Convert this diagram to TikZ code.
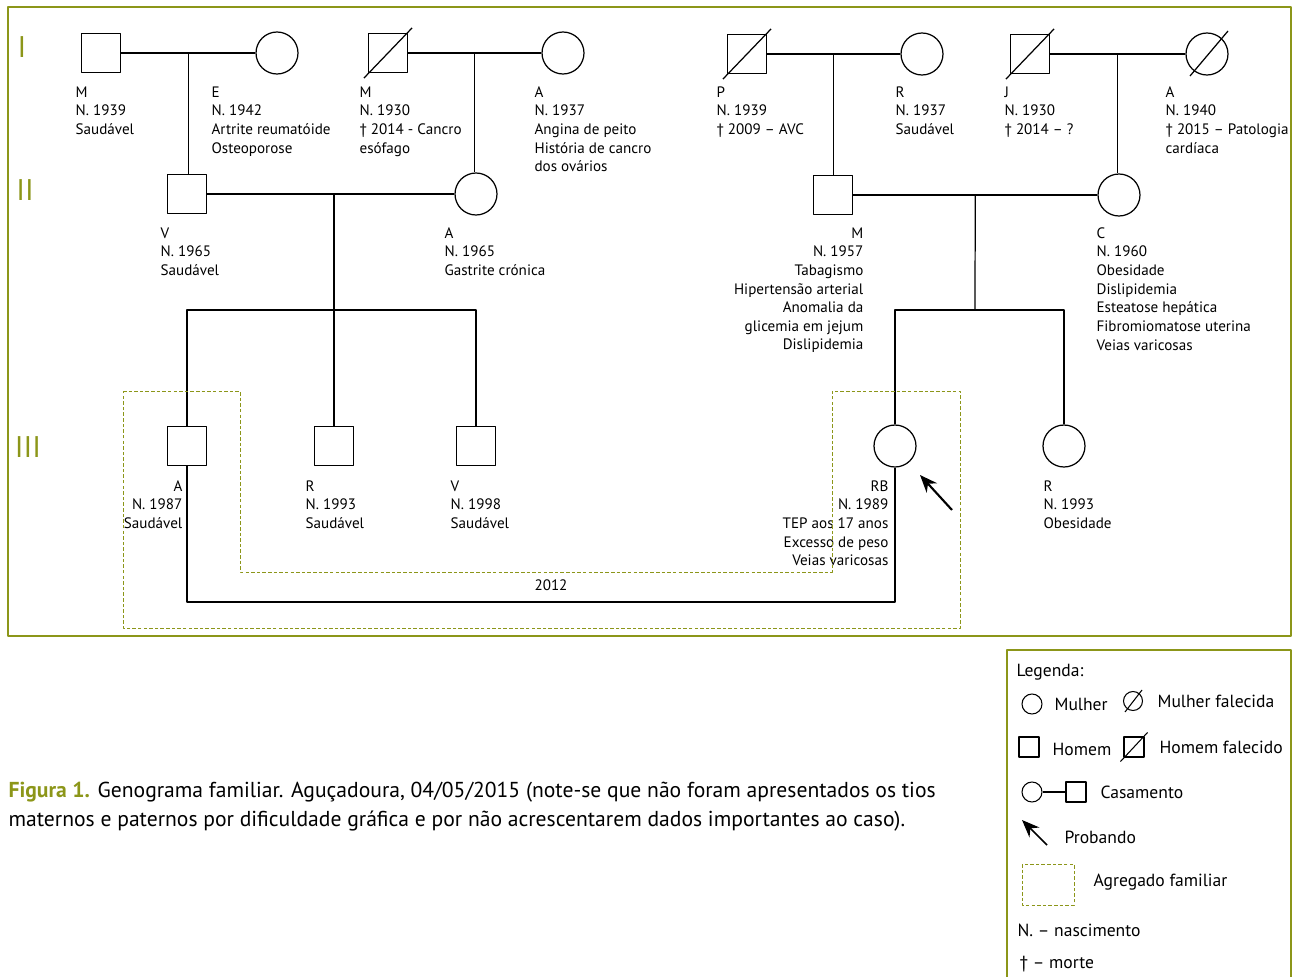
\documentclass[tikz,border=0pt]{standalone}
\usepackage{fontspec}
\setmainfont{PT Sans}
\usetikzlibrary{arrows.meta}
\definecolor{genolive}{RGB}{140,150,25}
\tikzset{
  homem/.style={draw, rectangle, minimum size=0.78cm, inner sep=0pt, fill=white},
  mulher/.style={draw, circle, minimum size=0.84cm, inner sep=0pt, fill=white},
  info/.style={inner sep=0pt, font=\fontsize{8.6}{10.6}\selectfont},
  infoL/.style={info, anchor=north west, align=left},
  infoR/.style={info, anchor=north east, align=right},
  legtxt/.style={inner sep=0pt, anchor=base west, font=\fontsize{10}{12}\selectfont},
  geracao/.style={text=genolive, inner sep=0pt, font=\fontsize{17}{20}\selectfont},
  agregado/.style={draw=genolive, dash pattern=on 2pt off 1.2pt, line width=0.5pt},
  probando/.style={-{Stealth[length=10pt,width=8pt]}, line width=1.2pt},
}
\begin{document}
\begin{tikzpicture}[x=0.02cm, y=-0.02cm, line join=round, line width=0.7pt]
\useasboundingbox (0,0) rectangle (1296,977);
\draw[genolive, line width=0.6pt] (8,7) rectangle (1291,636);

% geracoes
\node[geracao] (g1) at (22,47) {I};
\node[geracao] (g2) at (25,190) {II};
\node[geracao] (g3) at (28,447) {III};

% geracao I
\node[homem] (m1) at (101,53) {};
\node[mulher] (e1) at (277,53) {};
\node[homem] (m2) at (388,53) {};
\draw ([shift={(-4,5)}]m2.south west) -- ([shift={(4,-5)}]m2.north east);
\node[mulher] (a1) at (563,53) {};
\node[homem] (p1) at (747,54) {};
\draw ([shift={(-4,5)}]p1.south west) -- ([shift={(4,-5)}]p1.north east);
\node[mulher] (r1) at (922,54) {};
\node[homem] (j1) at (1030,54) {};
\draw ([shift={(-4,5)}]j1.south west) -- ([shift={(4,-5)}]j1.north east);
\node[mulher] (a2) at (1207,54) {};
\draw ([shift={(-17,22)}]a2.center) -- ([shift={(21,-23)}]a2.center);

\node[infoL] (tm1) at (75,86) {M\\N. 1939\\Saudável};
\node[infoL] (te1) at (211,86) {E\\N. 1942\\Artrite reumatóide\\Osteoporose};
\node[infoL] (tm2) at (359,86) {M\\N. 1930\\† 2014 - Cancro\\esófago};
\node[infoL] (ta1) at (534,86) {A\\N. 1937\\Angina de peito\\História de cancro\\dos ovários};
\node[infoL] (tp1) at (716,86) {P\\N. 1939\\† 2009 – AVC};
\node[infoL] (tr1) at (895,86) {R\\N. 1937\\Saudável};
\node[infoL] (tj1) at (1004,86) {J\\N. 1930\\† 2014 – ?};
\node[infoL] (ta2) at (1165,86) {A\\N. 1940\\† 2015 – Patologia\\cardíaca};

% geracao II
\node[homem] (v2) at (187,194) {};
\node[mulher] (a3) at (476,194) {};
\node[homem] (m3) at (833,195) {};
\node[mulher] (c3) at (1119,195) {};

\draw (m1) -- node[coordinate] (u1) {} (e1);
\draw (u1) -- (u1 |- v2.north);
\draw (m2) -- node[coordinate] (u2) {} (a1);
\draw (u2) -- (u2 |- a3.north);
\draw (p1) -- node[coordinate] (u3) {} (r1);
\draw (u3) -- (u3 |- m3.north);
\draw (j1) -- node[coordinate] (u4) {} (a2);
\draw (u4) -- (u4 |- c3.north);

\node[infoL] (tv2) at (160,227) {V\\N. 1965\\Saudável};
\node[infoL] (ta3) at (444,227) {A\\N. 1965\\Gastrite crónica};
\node[infoR] (tm3) at (864,227) {M\\N. 1957\\Tabagismo\\Hipertensão arterial\\Anomalia da\\glicemia em jejum\\Dislipidemia};
\node[infoL] (tc3) at (1096,227) {C\\N. 1960\\Obesidade\\Dislipidemia\\Esteatose hepática\\Fibromiomatose uterina\\Veias varicosas};

% geracao III
\node[homem] (a4) at (187,446) {};
\node[homem] (r4) at (334,446) {};
\node[homem] (v4) at (476,446) {};
\node[mulher] (rb) at (895,446) {};
\node[mulher] (r5) at (1064,446) {};

\coordinate (s1) at (334,310);
\coordinate (s2) at (975,310);
\draw (v2) -- (a3);
\draw (s1 |- v2) -- (s1);
\draw (a4) |- (s1) -| (v4);
\draw (s1) -- (r4);
\draw (m3) -- node[coordinate] (u6) {} (c3);
\draw (u6) -- (s2);
\draw (rb) |- (s2) -| (r5);

\coordinate (c2012) at (551,602);
\draw (a4) |- (c2012) -| (rb);
\node[info] (t2012) at (551,585) {2012};

\node[infoR] (ta4) at (183,480) {A\\N. 1987\\Saudável};
\node[infoL] (tr4) at (305,480) {R\\N. 1993\\Saudável};
\node[infoL] (tv4) at (450,480) {V\\N. 1998\\Saudável};
\node[infoR] (trb) at (889,480) {RB\\N. 1989\\TEP aos 17 anos\\Excesso de peso\\Veias varicosas};
\node[infoL] (tr5) at (1043,480) {R\\N. 1993\\Obesidade};

\coordinate (pb0) at (952,510);
\coordinate (pb1) at (920,475);
\draw[probando] (pb0) -- (pb1);

% agregado familiar
\draw[agregado] (123,391) -- (240,391) -- (240,572) -- (832,572) -- (832,391)
  -- (960,391) -- (960,628) -- (123,628) -- cycle;

% legenda
\draw[genolive, line width=0.6pt] (1007,650) rectangle (1291,990);
\node[legtxt] (leg) at (1016,676) {Legenda:};
\node[mulher, minimum size=0.4cm, line width=0.6pt] (lmul) at (1032,704) {};
\node[legtxt] at (1054,710) {Mulher};
\node[mulher, minimum size=0.38cm, line width=0.6pt] (lmulf) at (1133,701) {};
\draw[line width=0.6pt] ([shift={(-8,11)}]lmulf.center) -- ([shift={(9,-11)}]lmulf.center);
\node[legtxt] at (1157,707) {Mulher falecida};
\node[homem, minimum size=0.4cm, line width=0.6pt] (lhom) at (1029,747) {};
\node[legtxt] at (1052,755) {Homem};
\node[homem, minimum size=0.4cm, line width=0.6pt] (lhomf) at (1134,747) {};
\draw[line width=0.6pt] ([shift={(-3,4)}]lhomf.south west) -- ([shift={(3,-4)}]lhomf.north east);
\node[legtxt] at (1159,753) {Homem falecido};
\node[mulher, minimum size=0.4cm, line width=0.6pt] (lcas1) at (1032,792) {};
\node[homem, minimum size=0.4cm, line width=0.6pt] (lcas2) at (1076,792) {};
\draw[line width=0.6pt] (lcas1) -- (lcas2);
\node[legtxt] at (1100,798) {Casamento};
\coordinate (lpb0) at (1047,845);
\coordinate (lpb1) at (1022,820);
\draw[probando, line width=0.9pt] (lpb0) -- (lpb1);
\node[legtxt] at (1064,843) {Probando};
\draw[agregado] (1022,864) rectangle (1074,905);
\node[legtxt] at (1093,886) {Agregado familiar};
\node[legtxt] at (1017,936) {N. – nascimento};
\node[legtxt] at (1019,968) {† – morte};

% legenda da figura
\node[inner sep=0pt, anchor=base west, align=left, font=\fontsize{12.3}{16.4}\selectfont] (fig) at (8,826)
  {\textcolor{genolive}{\textbf{Figura 1.}} Genograma familiar. Aguçadoura, 04/05/2015 (note-se que não foram apresentados os tios\\
  maternos e paternos por dificuldade gráfica e por não acrescentarem dados importantes ao caso).};
\end{tikzpicture}
\end{document}
